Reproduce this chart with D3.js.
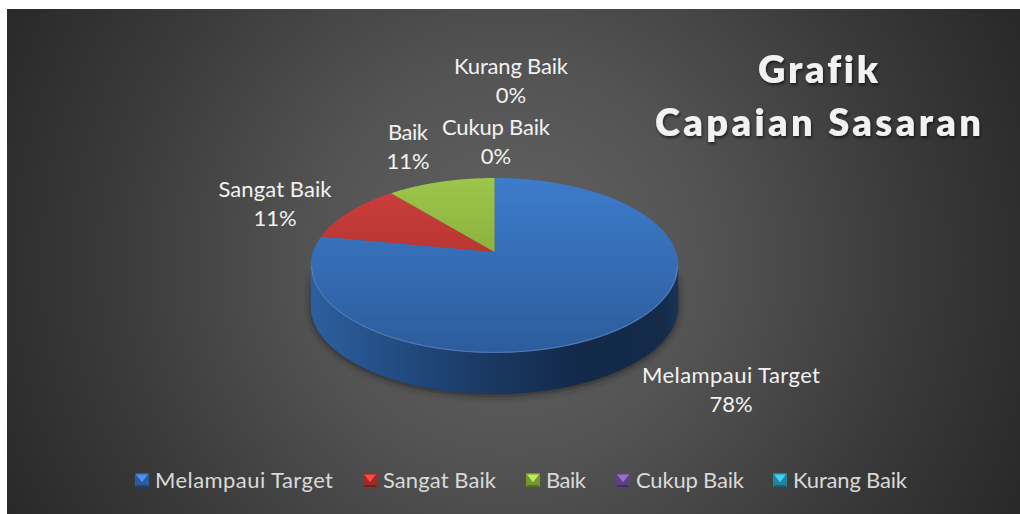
<!DOCTYPE html>
<html><head><meta charset="utf-8">
<script src="https://cdn.jsdelivr.net/npm/d3@7/dist/d3.min.js"></script>
<style>html,body{margin:0;padding:0;background:#fff}svg{display:block}text{font-family:Lato,Carlito,sans-serif;font-variant-ligatures:none}</style>
</head><body><svg id="c" width="1020" height="514"></svg>
<script>
const categories = ["Melampaui Target","Sangat Baik","Baik","Cukup Baik","Kurang Baik"];
const values = [78,11,11,0,0];
const percentLabels = ["78%","11%","11%","0%","0%"];
const topLight = ["#3d7ccb","#cf3f3c","#9dc64a","#7d5fa8","#35b0cc"];
const topDark = ["#2c5c9c","#9a2b28","#76962f","#5a437f","#23839a"];
const labelPos = [[731,376],[275,190],[408,133],[496,128],[511,67]];
const labelWidths = [178,113,40,108,114];
const legendX = [135,363,526,616,773];
const titleLines = ["Grafik","Capaian Sasaran"];
const titleWidths = [120,326];

const svg = d3.select("#c"), defs = svg.append("defs");
const bg = defs.append("radialGradient").attr("id","bg").attr("gradientUnits","userSpaceOnUse")
  .attr("cx",510).attr("cy",262).attr("r",570);
[[0,"#636363"],[0.35,"#535353"],[0.7,"#3a3a3a"],[1,"#282828"]].forEach(s=>bg.append("stop").attr("offset",s[0]).attr("stop-color",s[1]));
svg.append("rect").attr("x",7).attr("y",9).attr("width",1013).attr("height",505).attr("fill","url(#bg)");

// perspective projection of the unit disc
const apex=[494.5,252], A=181.5, B=85.4, C=-0.154, depth=41;
const proj=(t,r=1,dy=0)=>{const u=r*Math.sin(t),v=-r*Math.cos(t),w=1+C*v;return [apex[0]+A*u/w,apex[1]+B*v/w+dy];};
const line=d3.line().curve(d3.curveLinear);
const arcs=d3.pie().sort(null).startAngle(0).endAngle(2*Math.PI)(values);
const samples=(a,b)=>d3.range(0,121).map(i=>a+(b-a)*i/120);

const blur=defs.append("filter").attr("id","sh").attr("x","-20%").attr("y","-20%").attr("width","140%").attr("height","140%");
blur.append("feGaussianBlur").attr("stdDeviation",3.5);
const blur2=defs.append("filter").attr("id","soft");
blur2.append("feGaussianBlur").attr("stdDeviation",0.6);
const ts=defs.append("filter").attr("id","ts").attr("x","-5%").attr("y","-20%").attr("width","110%").attr("height","150%");
ts.append("feDropShadow").attr("dx",1).attr("dy",2).attr("stdDeviation",1.6).attr("flood-color","#000").attr("flood-opacity",0.6);

// rim of the disc: the visible side between the left and right extremes
const full=samples(0,2*Math.PI), ext=full.map(t=>proj(t));
const tR=full[d3.scan(ext,(a,b)=>b[0]-a[0])];
const tL=full[d3.scan(ext,(a,b)=>a[0]-b[0])];
const sideTop=samples(tR,tL).map(t=>proj(t));
const sideBot=samples(tL,tR).map(t=>proj(t,1,depth));
const sidePath=line(sideTop.concat(sideBot))+"Z";

svg.append("path").attr("d",sidePath).attr("fill","#1a1a1a").attr("opacity",0.75).attr("filter","url(#sh)").attr("transform","translate(0,2)");

const sg=defs.append("linearGradient").attr("id","side").attr("gradientUnits","userSpaceOnUse").attr("x1",310).attr("x2",680).attr("y1",0).attr("y2",0);
[[0,"#2d5f9f"],[0.2,"#244f86"],[0.45,"#1b3b66"],[0.72,"#12294a"],[0.95,"#132a48"],[1,"#1a3558"]].forEach(s=>sg.append("stop").attr("offset",s[0]).attr("stop-color",s[1]));
svg.append("path").attr("d",sidePath).attr("fill","url(#side)");

categories.forEach((c,i)=>{
  const g=defs.append("linearGradient").attr("id","top"+i).attr("gradientUnits","userSpaceOnUse").attr("x1",0).attr("x2",0).attr("y1",178).attr("y2",353);
  g.append("stop").attr("offset",0).attr("stop-color",topLight[i]);
  g.append("stop").attr("offset",1).attr("stop-color",topDark[i]);
});
// top faces
svg.append("g").selectAll("path").data(arcs.filter(d=>d.value>0)).join("path")
  .attr("d",d=>line([apex].concat(samples(d.startAngle,d.endAngle).map(t=>proj(t))))+"Z")
  .attr("fill",d=>`url(#top${d.index})`);
// bevel highlight on the front edge of the disc
svg.append("path").attr("d",line(samples(tR,tL).map(t=>proj(t,0.995))))
  .attr("fill","none").attr("stroke","#6f9ad2").attr("stroke-width",1).attr("opacity",0.55).attr("filter","url(#soft)");

// data labels
const lab=svg.append("g").attr("fill","#f2f2f2").attr("font-size",22).attr("text-anchor","middle");
categories.forEach((c,i)=>{
  lab.append("text").attr("x",labelPos[i][0]).attr("y",labelPos[i][1]+7).attr("textLength",labelWidths[i]).text(c);
  lab.append("text").attr("x",labelPos[i][0]).attr("y",labelPos[i][1]+36).text(percentLabels[i]);
});

// title
const tt=svg.append("g").attr("fill","#f2f2f2").attr("font-size",38).attr("font-weight",800).attr("text-anchor","middle").attr("filter","url(#ts)");
titleLines.forEach((s,i)=>tt.append("text").attr("x",818).attr("y",[83,136][i]).attr("textLength",titleWidths[i]).text(s));

// legend
const lg=svg.append("g");
categories.forEach((c,i)=>{
  const x=legendX[i],y=473,s=14;
  const g=lg.append("g").attr("transform",`translate(${x},${y})`);
  g.append("rect").attr("width",s).attr("height",s).attr("fill",topDark[i]);
  g.append("path").attr("d",line([[0,s],[s,s],[s-2,s-2],[2,s-2]])+"Z").attr("fill",d3.color(topDark[i]).darker(0.9));
  g.append("path").attr("d",line([[1,1.5],[s-1,1.5],[s/2,s*0.66]])+"Z").attr("fill",d3.color(topLight[i]).brighter(0.5));
  lg.append("text").attr("x",x+20).attr("y",488).attr("fill","#d9d9d9").attr("font-size",22).attr("textLength",labelWidths[i]).text(c);
});
</script></body></html>
